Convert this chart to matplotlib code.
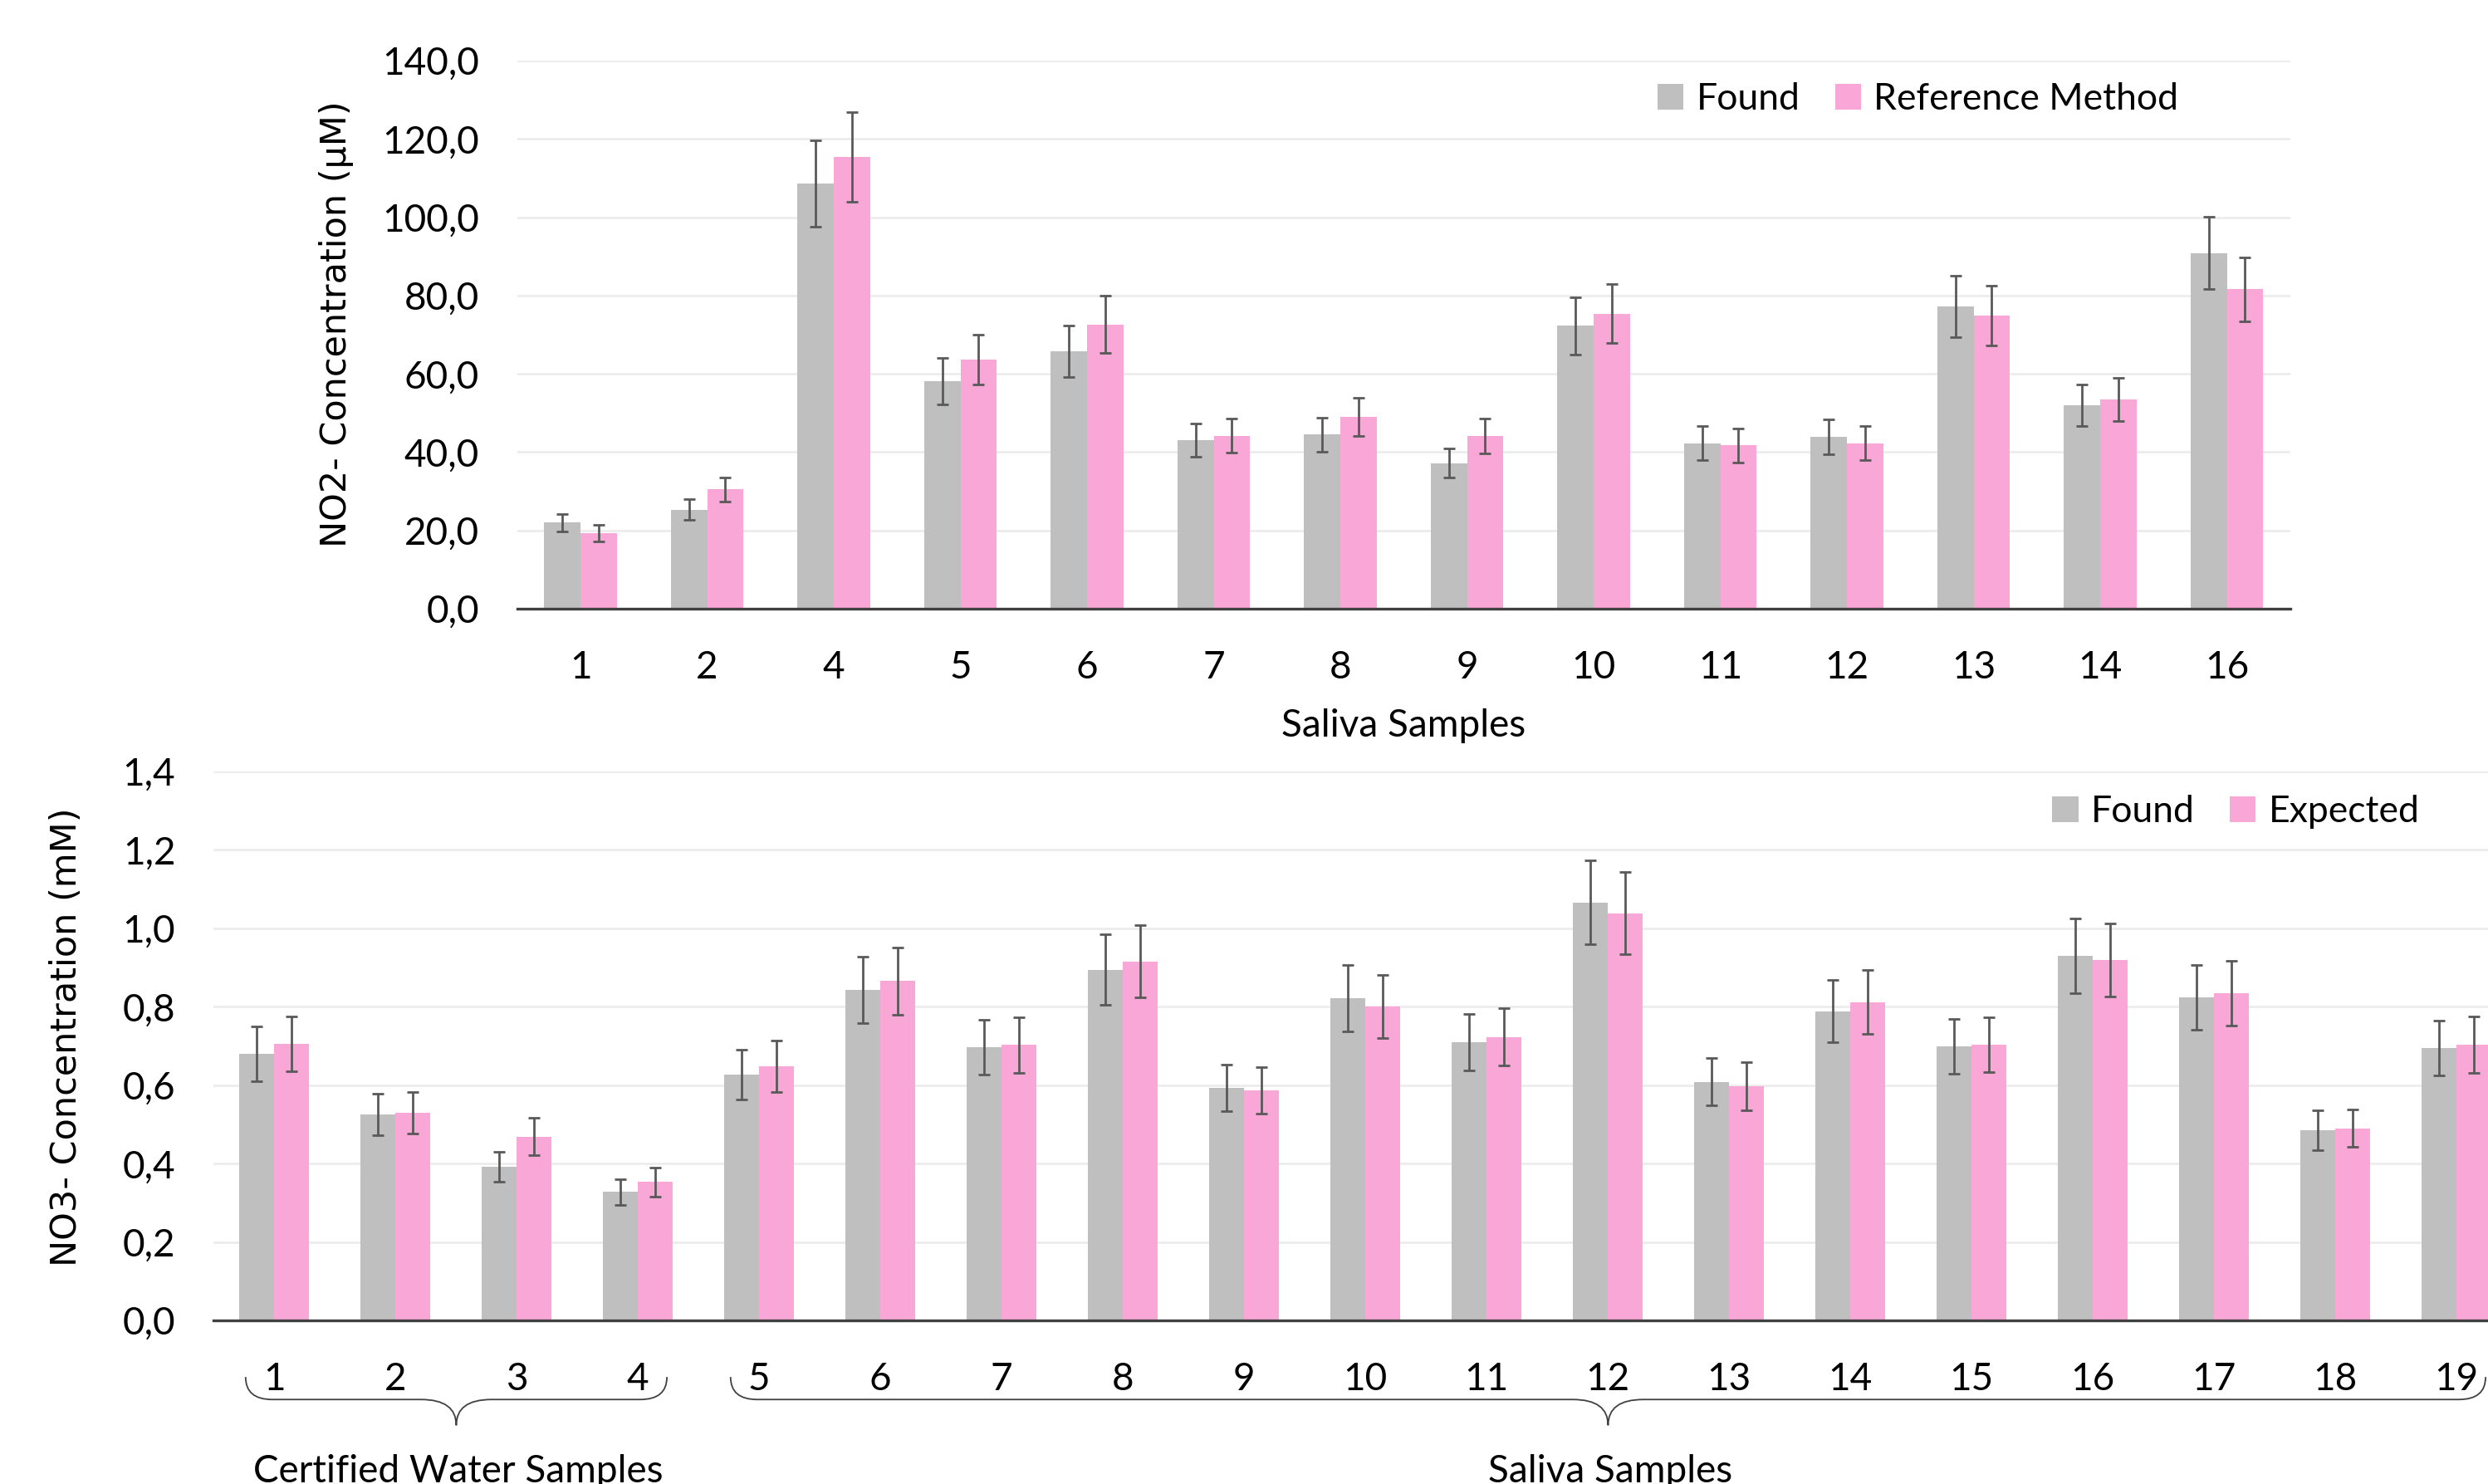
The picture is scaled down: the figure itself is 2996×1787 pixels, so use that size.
import numpy as np
import matplotlib.pyplot as plt
from matplotlib.path import Path
from matplotlib.patches import PathPatch
from matplotlib.transforms import blended_transform_factory
from matplotlib.ticker import FuncFormatter, MultipleLocator

# top panel: nitrite in saliva
no2_samples = ["1", "2", "4", "5", "6", "7", "8", "9", "10", "11", "12", "13", "14", "16"]
no2_found = [22.0, 25.3, 108.6, 58.1, 65.7, 43.1, 44.5, 37.2, 72.3, 42.3, 43.9, 77.2, 51.9, 90.9]
no2_found_err = [2.2, 2.7, 11.0, 5.9, 6.6, 4.3, 4.4, 3.7, 7.3, 4.4, 4.4, 7.8, 5.3, 9.2]
no2_ref = [19.3, 30.5, 115.4, 63.6, 72.6, 44.2, 49.0, 44.1, 75.4, 41.7, 42.3, 74.9, 53.4, 81.6]
no2_ref_err = [2.2, 3.1, 11.5, 6.4, 7.3, 4.4, 4.9, 4.4, 7.5, 4.3, 4.3, 7.6, 5.5, 8.2]

# bottom panel: nitrate, certified water + saliva
no3_samples = [str(i) for i in range(1, 20)]
no3_found = [0.680, 0.525, 0.392, 0.328, 0.627, 0.843, 0.697, 0.894, 0.593, 0.822,
             0.710, 1.066, 0.609, 0.789, 0.699, 0.930, 0.824, 0.485, 0.695]
no3_found_err = [0.069, 0.053, 0.039, 0.033, 0.063, 0.085, 0.070, 0.090, 0.060, 0.084,
                 0.072, 0.107, 0.061, 0.079, 0.070, 0.095, 0.083, 0.050, 0.069]
no3_exp = [0.706, 0.529, 0.469, 0.353, 0.648, 0.866, 0.703, 0.916, 0.587, 0.801,
           0.723, 1.039, 0.598, 0.812, 0.704, 0.920, 0.835, 0.490, 0.704]
no3_exp_err = [0.070, 0.053, 0.047, 0.037, 0.066, 0.086, 0.071, 0.092, 0.059, 0.080,
               0.073, 0.105, 0.061, 0.082, 0.070, 0.093, 0.083, 0.048, 0.072]

# brace groups under the bottom panel (first index, last index)
no3_groups = [("Certified Water Samples", 0, 3), ("Saliva Samples", 4, 18)]

GREY = "#BFBFBF"
PINK = "#F9A7D6"
ERR = "#595959"
AXIS = "#404040"
TICK_FONT = "Lato"
LABEL_FONT = "DejaVu Sans"
FS = 33

plt.rcParams["font.family"] = TICK_FONT


def comma_fmt(v, pos):
    return f"{v:.1f}".replace(".", ",")


def draw_panel(ax, labels, a, a_err, b, b_err, names, ymax, ystep, legend_xy):
    x = np.arange(len(labels))
    w = 0.287
    ek = dict(ecolor=ERR, elinewidth=2.0, capsize=5, capthick=2.0)
    ax.bar(x - w / 2, a, w, yerr=a_err, color=GREY, label=names[0], error_kw=ek, zorder=2)
    ax.bar(x + w / 2, b, w, yerr=b_err, color=PINK, label=names[1], error_kw=ek, zorder=2)
    ax.set_xticks(x)
    ax.set_xticklabels(labels)
    ax.set_xlim(-0.5, len(labels) - 0.5)
    ax.set_ylim(0, ymax)
    ax.yaxis.set_major_locator(MultipleLocator(ystep))
    ax.yaxis.set_major_formatter(FuncFormatter(comma_fmt))
    ax.grid(axis="y", color="#EBEBEB", linewidth=1.8, zorder=0)
    ax.set_axisbelow(True)
    for s in ["top", "right", "left"]:
        ax.spines[s].set_visible(False)
    ax.spines["bottom"].set_color(AXIS)
    ax.spines["bottom"].set_linewidth(2.4)
    ax.spines["bottom"].set_zorder(3)
    ax.tick_params(axis="both", length=0, labelsize=FS, colors="black")
    ax.tick_params(axis="x", pad=36)
    ax.tick_params(axis="y", pad=33)
    ax.legend(loc="center", bbox_to_anchor=legend_xy, ncol=2, frameon=False,
              fontsize=32, handlelength=0.7, handleheight=0.7,
              handletextpad=0.35, columnspacing=0.95)


def brace(ax, x0, x1, color=AXIS):
    # curly brace below the axis, x in data units, y in axes fraction
    trans = blended_transform_factory(ax.transData, ax.transAxes)
    xm = (x0 + x1) / 2
    yt, yh, yp = -0.103, -0.144, -0.191
    r, c = 0.22, 0.29
    verts = [(x0, yt), (x0, yh), (x0 + r, yh),
             (xm - c, yh),
             (xm, yh), (xm, yp),
             (xm, yh), (xm + c, yh),
             (x1 - r, yh),
             (x1, yh), (x1, yt)]
    codes = [Path.MOVETO, Path.CURVE3, Path.CURVE3,
             Path.LINETO,
             Path.CURVE3, Path.CURVE3,
             Path.CURVE3, Path.CURVE3,
             Path.LINETO,
             Path.CURVE3, Path.CURVE3]
    patch = PathPatch(Path(verts, codes), facecolor="none", edgecolor=color,
                      linewidth=1.3, transform=trans, clip_on=False)
    ax.add_patch(patch)


fig = plt.figure(figsize=(29.96, 17.87), dpi=100)

ax1 = fig.add_axes([0.2079, 0.5898, 0.7126, 0.3693])
draw_panel(ax1, no2_samples, no2_found, no2_found_err, no2_ref, no2_ref_err,
           ["Found", "Reference Method"], 140, 20, (0.79, 0.929))
ax1.set_xlabel("Saliva Samples", fontsize=FS, labelpad=20)

# bottom axes is wider than the figure: the original image is cropped at the right
ax2 = fig.add_axes([0.0858, 0.1102, 0.9259, 0.3699])
draw_panel(ax2, no3_samples, no3_found, no3_found_err, no3_exp, no3_exp_err,
           ["Found", "Expected"], 1.4, 0.2, (0.878, 0.927))

for name, i0, i1 in no3_groups:
    brace(ax2, i0 - 0.235, i1 + 0.24)
    ax2.text((i0 + i1) / 2 + 0.02, -0.243, name, transform=ax2.get_xaxis_transform(),
             ha="center", va="top", fontsize=FS)

fig.text(405 / 2996, 1 - 390 / 1787, "NO2- Concentration (µM)", rotation=90,
         ha="center", va="center", fontsize=31, family=LABEL_FONT)
fig.text(80 / 2996, 1 - 1249 / 1787, "NO3- Concentration (mM)", rotation=90,
         ha="center", va="center", fontsize=31, family=LABEL_FONT)

fig.savefig("out.png", dpi=100, facecolor="white")
